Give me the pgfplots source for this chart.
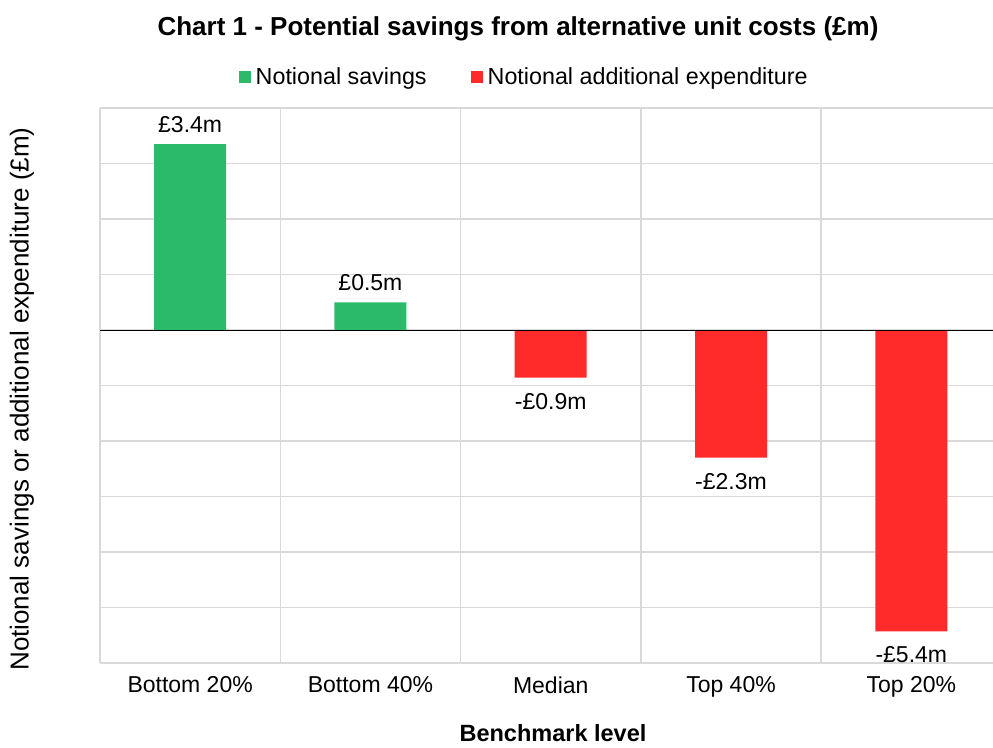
\documentclass[border=0pt]{standalone}
\usepackage{fontspec}
\setmainfont{Liberation Sans}
\usepackage{pgfplots}
\pgfplotsset{compat=1.18}
\definecolor{sgreen}{RGB}{42,186,106}
\definecolor{sred}{RGB}{255,42,42}
\definecolor{gridgray}{RGB}{217,217,217}
\begin{document}
\begin{tikzpicture}[font=\fontsize{23}{27}\selectfont]
\begin{axis}[
  at={(0pt,0pt)}, anchor=south west,
  scale only axis, width=893pt, height=555pt,
  xmin=-0.5, xmax=4.453, ymin=-6, ymax=4,
  axis line style={draw=none},
  xtick={0,1,2,3,4},
  xticklabels={Bottom 20\%, Bottom 40\%, Median, Top 40\%, Top 20\%},
  minor xtick={-0.5,0.5,1.5,2.5,3.5},
  ytick={-6,-5,-4,-3,-2,-1,0,1,2,3,4}, yticklabels={},
  xmajorgrids=false, xminorgrids=true, ymajorgrids=true,
  grid style={gridgray, line width=1.5pt},
  minor grid style={gridgray, line width=1.5pt},
  major tick length=0pt, minor tick length=0pt,
  xticklabel style={font=\fontsize{23}{27}\selectfont, yshift=-10pt},
  ybar, bar width=72pt, bar shift=0pt,
  point meta=explicit symbolic,
  nodes near coords,
  every node near coord/.append style={font=\fontsize{23}{27}\selectfont, black},
  legend columns=2,
  legend style={draw=none, fill=none, at={(0.475,1.056)}, anchor=center,
    font=\fontsize{23.3}{27}\selectfont,
    /tikz/every even column/.append style={column sep=42pt}},
  legend image code/.code={\fill[#1] (0pt,-6pt) rectangle (12pt,6pt);\path (15pt,0pt);},
  clip=false,
]
\addplot[fill=sgreen, draw=none, nodes near coords style={anchor=south, yshift=8pt}]
  coordinates {(0,3.35) [£3.4m] (1,0.5) [£0.5m]};
\addlegendentry{Notional savings}
\addplot[fill=sred, draw=none, nodes near coords style={anchor=north, yshift=-12pt}]
  coordinates {(2,-0.86) [-£0.9m] (3,-2.3) [-£2.3m] (4,-5.43) [-£5.4m]};
\addlegendentry{Notional additional expenditure}
\draw[black, line width=1pt] (axis cs:-0.5,0) -- (axis cs:4.453,0);
\end{axis}
\node at (418pt,634pt) {\fontsize{26}{30}\selectfont\bfseries Chart 1 - Potential savings from alternative unit costs (£m)};
\node at (453pt,-70pt) {\fontsize{23.5}{28}\selectfont\bfseries Benchmark level};
\node[rotate=90] at (-78pt,264pt) {\fontsize{26}{30}\selectfont Notional savings or additional expenditure (£m)};
\pgfresetboundingbox
\path (-100pt,-84pt) rectangle (893pt,663pt);
\end{tikzpicture}
\end{document}
